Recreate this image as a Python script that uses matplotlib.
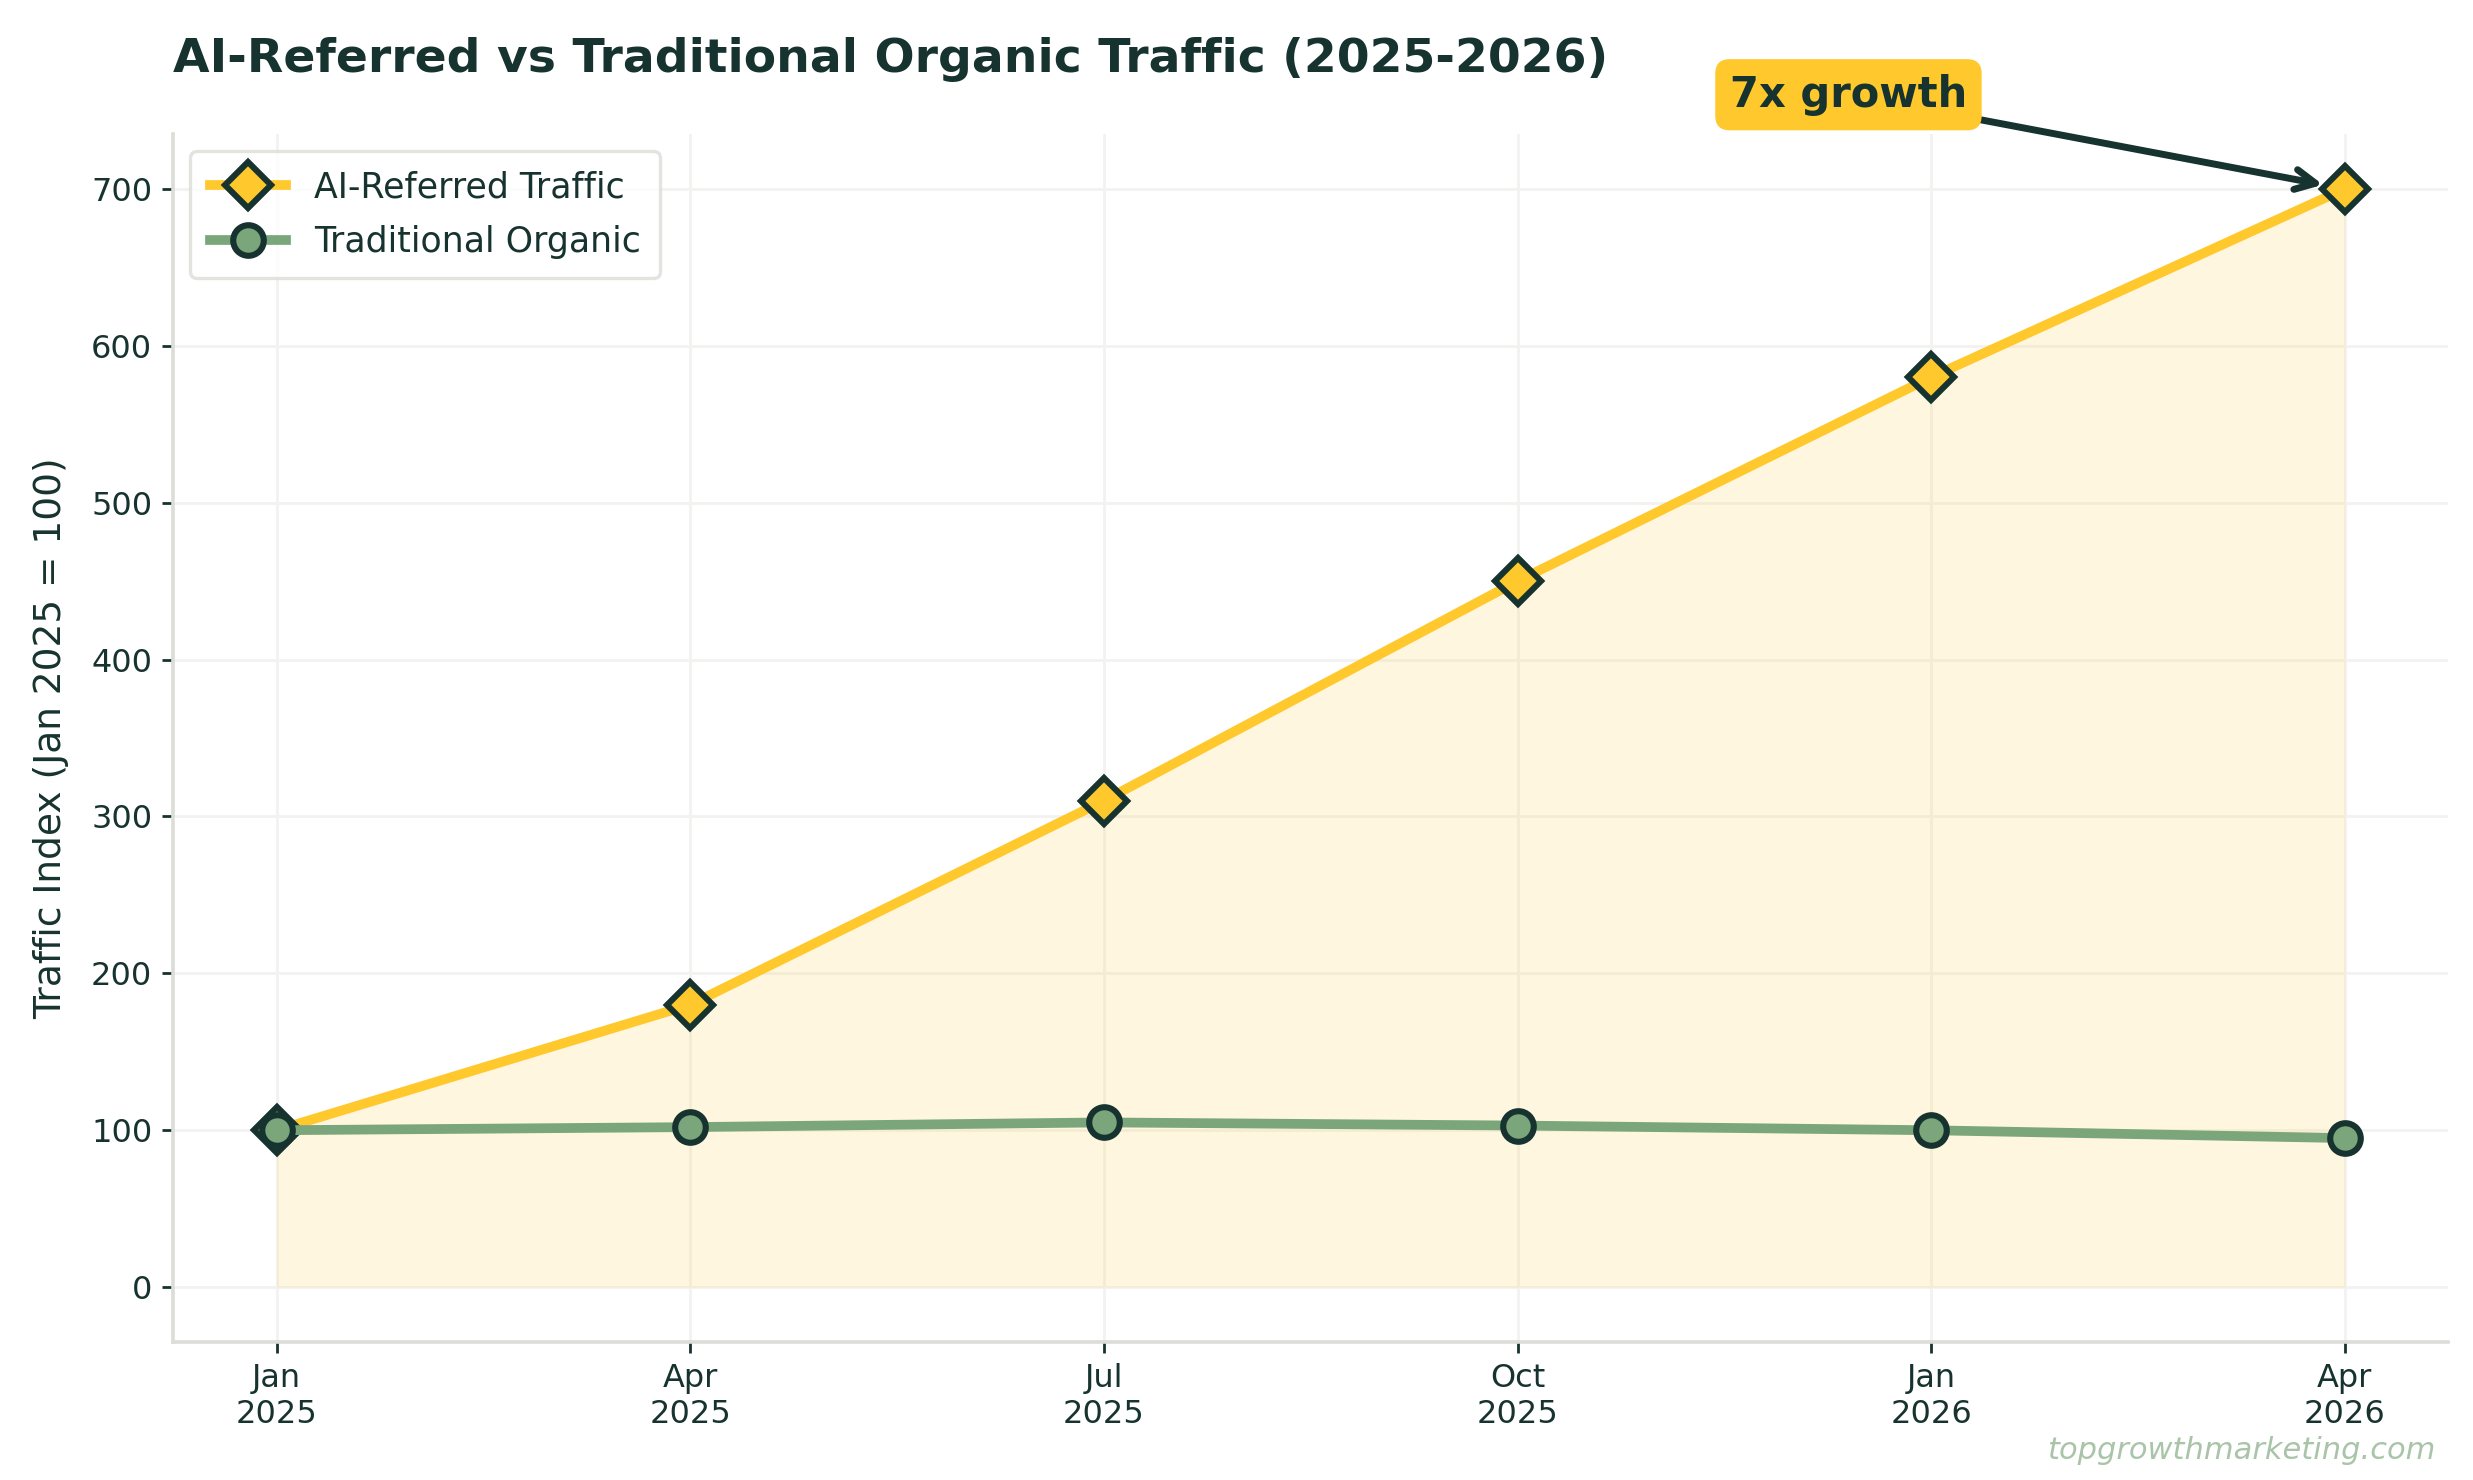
import matplotlib
matplotlib.use("Agg")
import matplotlib.pyplot as plt
import numpy as np

plt.rcParams['font.family'] = ['DejaVu Sans']

periods = ["Jan\n2025", "Apr\n2025", "Jul\n2025", "Oct\n2025", "Jan\n2026", "Apr\n2026"]
ai_referred = [100, 180, 310, 450, 580, 700]
traditional = [100, 102, 105, 103, 100, 95]
yticks = [0, 100, 200, 300, 400, 500, 600, 700]

DARK = "#17332F"
YELLOW = "#FFC82C"
GREEN = "#7BA57A"
GRID = "#F2F2F0"
SPINE = "#DCDCD8"

fig = plt.figure(figsize=(2473/200, 1480/200), dpi=200)
ax = fig.add_axes([0.070, 0.0932, 0.920, 0.8163])

x = np.arange(len(periods))
ax.fill_between(x, 0, ai_referred, color=YELLOW, alpha=0.15, linewidth=0, zorder=1)
ax.plot(x, ai_referred, color=YELLOW, lw=3.5, marker='D', markersize=11.5,
        markerfacecolor=YELLOW, markeredgecolor=DARK, markeredgewidth=2.2,
        label="AI-Referred Traffic", zorder=3)
ax.plot(x, traditional, color=GREEN, lw=3.5, marker='o', markersize=11,
        markerfacecolor=GREEN, markeredgecolor=DARK, markeredgewidth=2.2,
        label="Traditional Organic", zorder=4)

ax.set_xticks(x)
ax.set_xticklabels(periods)
ax.set_yticks(yticks)
ax.tick_params(axis='both', colors=DARK, labelsize=11.5, length=4, width=1)
ax.grid(True, color=GRID, lw=1, zorder=0)
ax.set_axisbelow(True)
for s in ['top', 'right']:
    ax.spines[s].set_visible(False)
for s in ['left', 'bottom']:
    ax.spines[s].set_color(SPINE)
    ax.spines[s].set_linewidth(1.3)

ax.set_ylabel("Traffic Index (Jan 2025 = 100)", fontsize=13.5, color=DARK,
              fontweight='medium', labelpad=8)

leg = ax.legend(loc='upper left', fontsize=12.5, frameon=True, fancybox=True,
                edgecolor=SPINE, labelcolor=DARK, borderpad=0.55,
                labelspacing=0.6, handlelength=2.2)
leg.get_frame().set_linewidth(1.2)

ax.annotate("7x growth", xy=(x[-1], ai_referred[-1]), xytext=(3.8, 760),
            textcoords='data', fontsize=15, fontweight='bold', color=DARK,
            ha='center', va='center',
            bbox=dict(boxstyle='round,pad=0.35', fc=YELLOW, ec='none'),
            arrowprops=dict(arrowstyle='->', color=DARK, lw=2.5,
                            shrinkA=0, shrinkB=8, mutation_scale=18),
            annotation_clip=False, zorder=6)

fig.text(0.070, 0.960, "AI-Referred vs Traditional Organic Traffic (2025-2026)",
         fontsize=17, fontweight='bold', color=DARK, ha='left', va='center')
fig.text(0.985, 0.020, "topgrowthmarketing.com", fontsize=11, style='italic',
         color="#A9C4A8", ha='right', va='center')

fig.savefig("out.png", dpi=200)
